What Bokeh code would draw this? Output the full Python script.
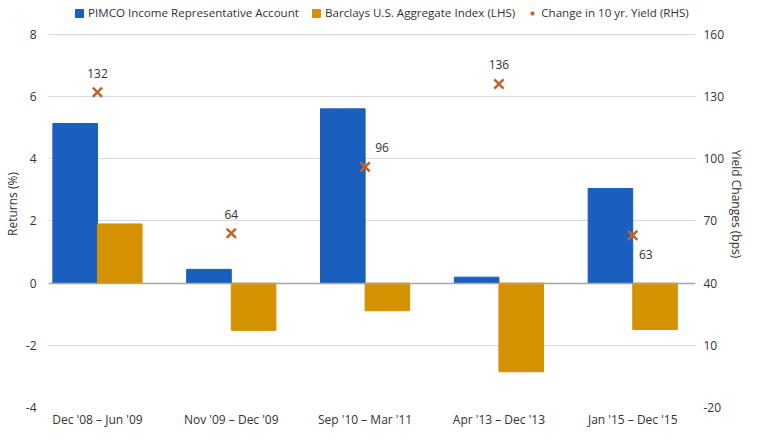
from bokeh.plotting import figure
from bokeh.models import (Range1d, LinearAxis, FixedTicker, Legend, LegendItem,
                          ColumnDataSource)
from bokeh.core.properties import value
from bokeh.embed import file_html
from bokeh.resources import INLINE

# ---- data ----
periods = ["Dec '08 \u2013 Jun '09", "Nov '09 \u2013 Dec '09", "Sep '10 \u2013 Mar '11",
           "Apr '13 \u2013 Dec '13", "Jan '15 \u2013 Dec '15"]
series_names = ["PIMCO Income Representative Account",
                "Barclays U.S. Aggregate Index (LHS)",
                "Change in 10 yr. Yield (RHS)"]
pimco = [5.13, 0.44, 5.6, 0.19, 3.04]
barclays = [1.9, -1.52, -0.89, -2.85, -1.49]
yield_change = [132, 64, 96, 136, 63]
left_ticks = [-4, -2, 0, 2, 4, 6, 8]
right_ticks = [-20, 10, 40, 70, 100, 130, 160]

# label offsets (style): pixels, screen y downwards
lab_dx = [0, 0, 17, 0, 13]
lab_dy = [-19, -19, -19, -19, 19]

FONT = "Open Sans"
BLUE = "#1b5fbe"
GOLD = "#d49200"
ORANGE = "#c0622b"
TXT = "#333333"

n = len(periods)
idx = list(range(n))

W, H = 748, 430
BL, BR, BB = 44, 44, 19
FH = H - BB                 # frame height (frame reaches the top edge)
TOPPAD = 34                 # pixels above the "8" gridline, used by the legend
lo, hi = left_ticks[0], left_ticks[-1]
ppu = (FH - TOPPAD) / (hi - lo)
ytop = hi + TOPPAD / ppu
rlo, rhi = right_ticks[0], right_ticks[-1]
rscale = (rhi - rlo) / (hi - lo)
rtop = rhi + TOPPAD / ppu * rscale

p = figure(width=W, height=H, output_backend="svg", toolbar_location=None,
           x_range=Range1d(-0.366, 4.469), y_range=Range1d(lo, ytop),
           min_border_left=BL, min_border_right=BR, min_border_top=0, min_border_bottom=BB)
p.outline_line_color = None
p.background_fill_color = "white"
p.border_fill_color = "white"

p.extra_y_ranges = {"bps": Range1d(rlo, rtop)}

bw = 1.0 / 3.0
src = ColumnDataSource(dict(
    xp=[i - bw / 2 for i in idx], xb=[i + bw / 2 for i in idx], xc=idx,
    pimco=pimco, barclays=barclays, yc=yield_change,
    lab=[str(v) for v in yield_change], dx=lab_dx, dy=lab_dy))

p.ygrid.grid_line_color = "#d9d9d9"
p.ygrid.grid_line_width = 1
p.xgrid.grid_line_color = None

r1 = p.vbar(x="xp", top="pimco", bottom=0, width=bw, color=BLUE, source=src)
r2 = p.vbar(x="xb", top="barclays", bottom=0, width=bw, color=GOLD, source=src)
p.hspan(y=[0], line_color="#a6a6a6", line_width=1.5)
r3 = p.scatter(x="xc", y="yc", y_range_name="bps", marker="x", size=13,
               line_color=ORANGE, line_width=2.5, source=src)
p.text(x="xc", y="yc", text="lab", y_range_name="bps", x_offset="dx", y_offset="dy",
       text_align="center", text_baseline="middle", text_font=value(FONT),
       text_font_size="12px", text_color=TXT, source=src)

def plain(ticks):
    return {t: str(t) for t in ticks}

# axes
p.xaxis.ticker = FixedTicker(ticks=idx)
p.xaxis.major_label_overrides = {i: s for i, s in enumerate(periods)}
p.xaxis.major_label_standoff = 3

p.yaxis.ticker = FixedTicker(ticks=left_ticks)
p.yaxis.major_label_overrides = plain(left_ticks)
p.yaxis.major_label_standoff = 12
p.yaxis.axis_label = "Returns (%)"
p.yaxis.axis_label_standoff = 2

ra = LinearAxis(y_range_name="bps", ticker=FixedTicker(ticks=right_ticks))
ra.major_label_overrides = plain(right_ticks)
ra.major_label_standoff = 8
ra.axis_label = "Yield Changes (bps)"
ra.axis_label_standoff = 1
p.add_layout(ra, "right")

for ax in [p.xaxis[0], p.yaxis[0], ra]:
    ax.axis_line_color = None
    ax.major_tick_line_color = None
    ax.minor_tick_line_color = None
    ax.major_tick_out = 0
    ax.major_tick_in = 0
    ax.minor_tick_out = 0
    ax.minor_tick_in = 0
    ax.major_label_text_font = FONT
    ax.major_label_text_font_size = "12px"
    ax.major_label_text_color = TXT
    ax.axis_label_text_font = FONT
    ax.axis_label_text_font_size = "12px"
    ax.axis_label_text_font_style = "normal"
    ax.axis_label_text_color = TXT

legend = Legend(items=[
    LegendItem(label=series_names[0], renderers=[r1]),
    LegendItem(label=series_names[1], renderers=[r2]),
    LegendItem(label=series_names[2], renderers=[r3]),
], orientation="horizontal", location=(26, FH - 24))
legend.glyph_width = 10
legend.glyph_height = 10
legend.label_standoff = 4
legend.spacing = 12
legend.padding = 0
legend.margin = 0
legend.border_line_color = None
legend.background_fill_alpha = 0
legend.label_text_font = FONT
legend.label_text_font_size = "11.6px"
legend.label_text_color = TXT
p.add_layout(legend)

open("out.html", "w").write(file_html(p, INLINE))
